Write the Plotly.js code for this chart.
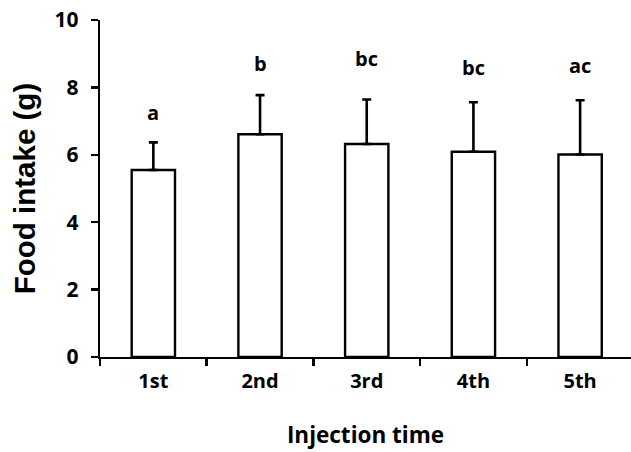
<!DOCTYPE html>
<html>
<head>
<meta charset="utf-8">
<script src="https://cdn.plot.ly/plotly-3.0.1.min.js"></script>
<style>html,body{margin:0;padding:0;background:#fff;}#chart{width:631px;height:452px;}</style>
</head>
<body>
<div id="chart"></div>
<script>
const categories = ["1st", "2nd", "3rd", "4th", "5th"];
const intake = [5.55, 6.61, 6.32, 6.09, 6.01];
const sdUpper = [0.82, 1.16, 1.32, 1.47, 1.61];
const letters = ["a", "b", "bc", "bc", "ac"];
const letterY = [7.25, 8.7, 8.86, 8.6, 8.66];
const yTicks = [0, 2, 4, 6, 8, 10];

const calib = "'Open Sans', Lato, sans-serif";
const arial = "'Liberation Sans', Arial, sans-serif";

const trace = {
  type: "bar",
  x: categories,
  y: intake,
  width: 0.406,
  marker: {color: "#ffffff", line: {color: "#000000", width: 2.4}},
  error_y: {type: "data", symmetric: false, array: sdUpper, arrayminus: intake.map(() => 0),
            color: "#000000", thickness: 2.6, width: 4.5}
};

const annotations = categories.map((c, i) => ({
  x: c, y: letterY[i], xref: "x", yref: "y", text: letters[i], showarrow: false,
  font: {family: calib, size: 20, color: "#000", weight: "bold"}
}));

const layout = {
  width: 631, height: 452,
  margin: {l: 100, r: 0, t: 20, b: 95},
  paper_bgcolor: "#fff", plot_bgcolor: "#fff",
  showlegend: false,
  xaxis: {
    type: "category", range: [-0.5, 4.477],
    showline: true, linecolor: "#000", linewidth: 2.4,
    ticks: "outside", tickson: "boundaries", ticklen: 7, tickwidth: 2.4, tickcolor: "#000",
    showgrid: false, zeroline: false,
    tickfont: {family: calib, size: 20, color: "#000", weight: "bold"},
    ticklabelstandoff: 5,
    title: {text: "Injection time", standoff: 34, font: {family: calib, size: 22.5, color: "#000", weight: "bold"}},
    automargin: false
  },
  yaxis: {
    range: [0, 10], tickvals: yTicks,
    showline: true, linecolor: "#000", linewidth: 2.4,
    ticks: "outside", ticklen: 7, tickwidth: 2.4, tickcolor: "#000",
    showgrid: false, zeroline: false,
    tickfont: {family: calib, size: 21, color: "#000", weight: "bold"},
    ticklabelstandoff: 8,
    title: {text: "Food intake (g)", standoff: 10, font: {family: arial, size: 29.5, color: "#000", weight: "bold"}},
    automargin: false
  },
  annotations: annotations
};

Plotly.newPlot("chart", [trace], layout, {staticPlot: true, displayModeBar: false});
</script>
</body>
</html>
